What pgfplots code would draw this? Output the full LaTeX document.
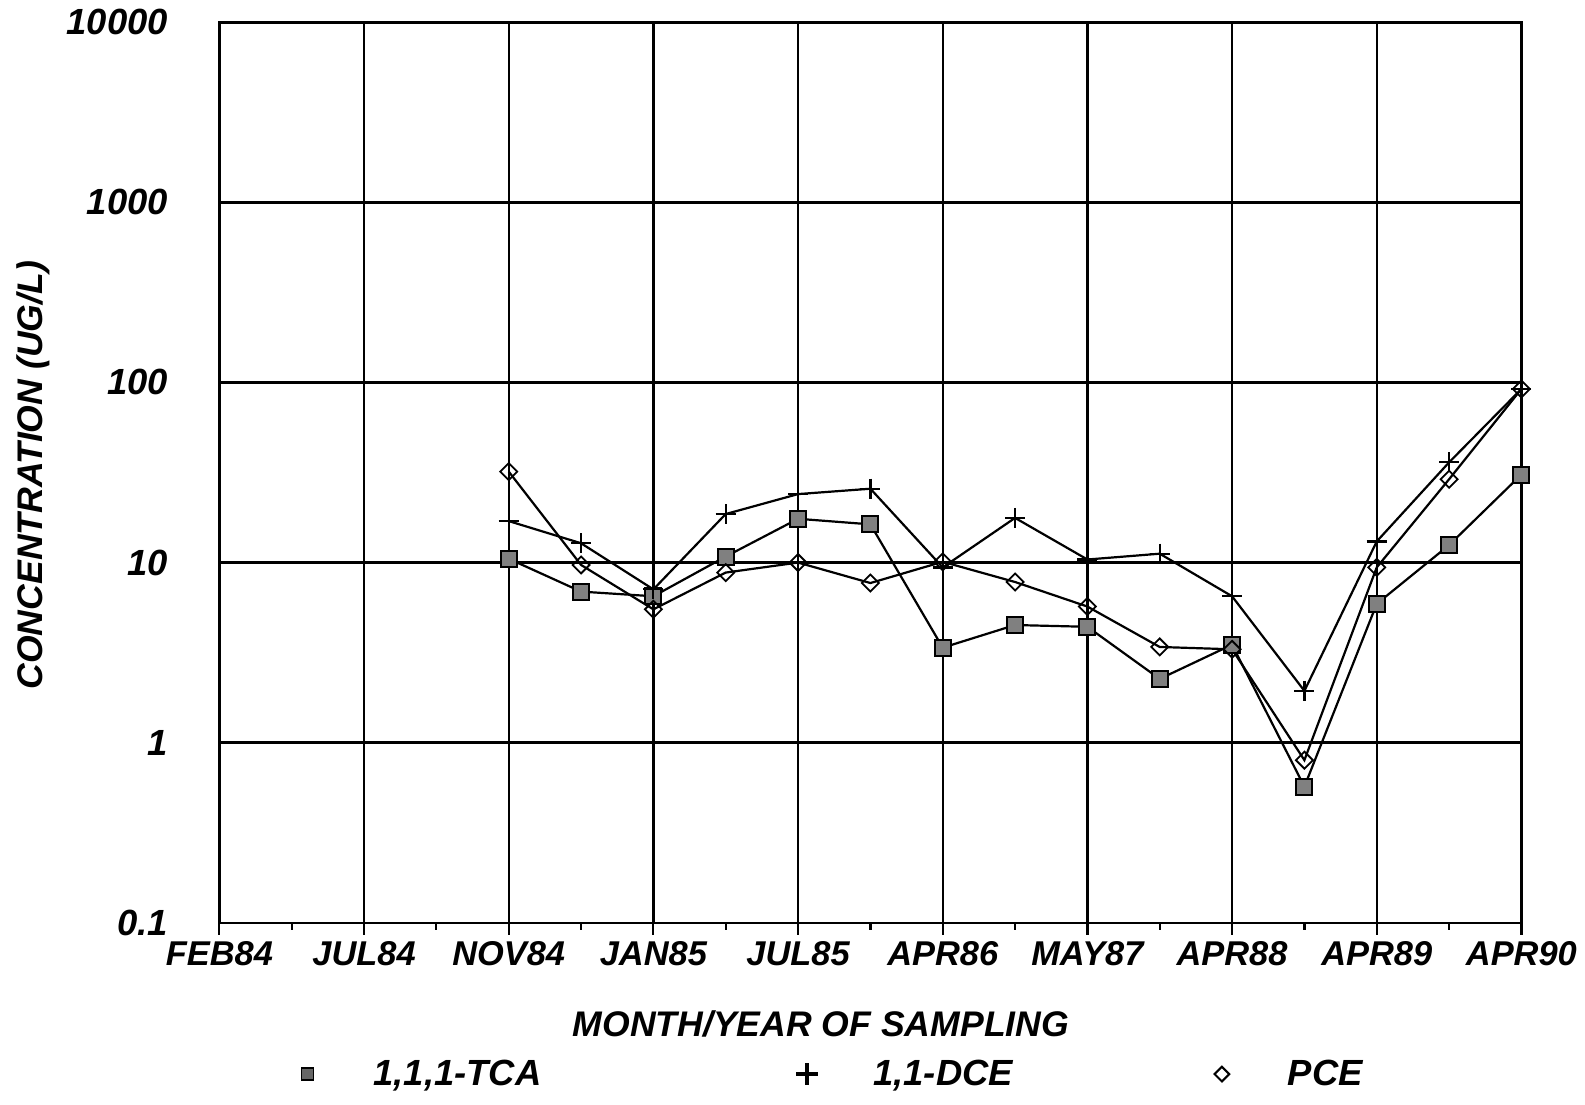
\documentclass[border=0pt]{standalone}
\usepackage{fontspec}
\setmainfont{Liberation Sans}
\usepackage{pgfplots}
\pgfplotsset{compat=1.18}
\begin{document}
\begin{tikzpicture}
\useasboundingbox (-109.7pt,-91pt) rectangle (682.8pt,461.4pt);
\begin{semilogyaxis}[
  scale only axis, width=651pt, height=450.3pt,
  at={(0pt,0pt)}, anchor=south west,
  xmin=0, xmax=9, ymin=0.1, ymax=10000,
  xtick={0,1,2,3,4,5,6,7,8,9},
  xticklabels={FEB84,JUL84,NOV84,JAN85,JUL85,APR86,MAY87,APR88,APR89,APR90},
  minor xtick={0.5,1.5,2.5,3.5,4.5,5.5,6.5,7.5,8.5},
  ytick={0.1,1,10,100,1000,10000},
  yticklabels={0.1,1,10,100,1000,10000},
  yminorticks=false,
  grid=major,
  major grid style={black, line width=1.2pt},
  axis line style={black, line width=1.3pt},
  tick align=outside,
  xtick pos=bottom, ytick pos=left,
  x tick style={black, line width=1.1pt},
  y tick style={draw=none},
  major tick length=6pt, minor tick length=3.5pt,
  /pgf/number format/assume math mode=true,
  xticklabel style={font=\fontsize{17.2}{20}\selectfont\bfseries\itshape, yshift=0pt},
  yticklabel style={font=\fontsize{18.2}{20}\selectfont\bfseries\itshape, xshift=-16.2pt},
  label style={font=\fontsize{17.8}{20}\selectfont\bfseries\itshape},
  xlabel={MONTH/YEAR OF SAMPLING},
  ylabel={CONCENTRATION (UG/L)},
  xlabel style={at={(axis description cs:0.462,0)}, yshift=-50.5pt, anchor=center},
  ylabel style={at={(axis description cs:-0.143,0.497)}, anchor=center},
  legend columns=3,
  legend style={at={(rel axis cs:0.4698,-0.168)}, anchor=center, draw=none, fill=none,
    font=\fontsize{18.2}{20}\selectfont\bfseries\itshape,
    /tikz/column 2/.style={column sep=125pt},
    /tikz/column 4/.style={column sep=96.5pt}},
  legend cell align=left,
  legend image code/.code={\path[draw=none,fill=none] (-6pt,0pt) -- (31pt,0pt); \draw[#1] plot coordinates {(0pt,0pt)};},
]
\addplot[forget plot, black, line width=1.1pt, mark=square*, mark size=4pt,
  mark options={fill=black!50, draw=black, line width=1pt}] coordinates {
(2,10.5) (2.5,6.9) (3,6.5) (3.5,10.8) (4,17.5) (4.5,16.3) (5,3.37) (5.5,4.5)
(6,4.4) (6.5,2.26) (7,3.5) (7.5,0.57) (8,5.9) (8.5,12.5) (9,30.8)};
\addplot[forget plot, black, line width=1.1pt, mark=+, mark size=5pt,
  mark options={line width=1.1pt}] coordinates {
(2,17) (2.5,12.8) (3,7.1) (3.5,18.6) (4,24) (4.5,25.7) (5,9.4) (5.5,17.7)
(6,10.4) (6.5,11.2) (7,6.5) (7.5,1.94) (8,13.1) (8.5,36) (9,92)};
\addplot[forget plot, black, line width=1.1pt, mark=square, mark size=3pt,
  mark options={rotate=45, fill=white, line width=0.9pt}] coordinates {
(2,32) (2.5,9.7) (3,5.5) (3.5,8.8) (4,10) (4.5,7.7) (5,10.1) (5.5,7.8)
(6,5.7) (6.5,3.4) (7,3.3) (7.5,0.8) (8,9.4) (8.5,29) (9,92)};
\addlegendimage{only marks, mark=square*, mark size=3pt, line width=0.9pt, mark options={fill=black!60, draw=black}}
\addlegendentry{1,1,1-TCA}
\addlegendimage{only marks, mark=+, mark size=5.5pt, line width=2pt}
\addlegendentry{1,1-DCE}
\addlegendimage{only marks, mark=square, mark size=2.6pt, line width=1pt, mark options={rotate=45}}
\addlegendentry{PCE}
\end{semilogyaxis}
\end{tikzpicture}
\end{document}
